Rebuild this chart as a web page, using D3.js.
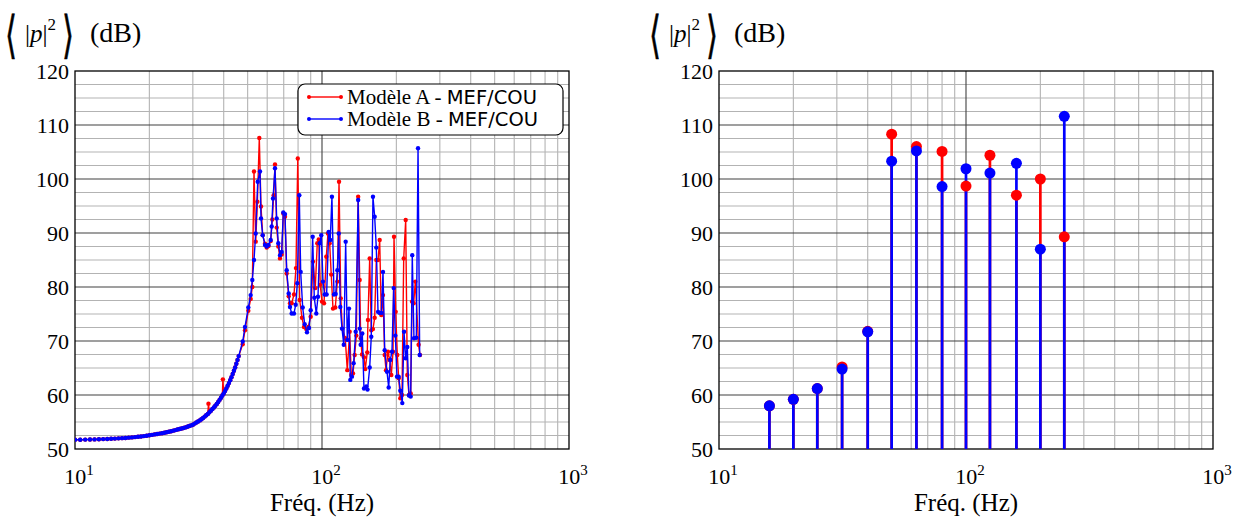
<!DOCTYPE html>
<html><head><meta charset="utf-8">
<script src="https://cdn.jsdelivr.net/npm/d3@7"></script>
<style>body{margin:0;background:#fff}svg{display:block}</style>
</head><body>
<svg id="chart" width="1243" height="519"></svg>
<script>
// ---------- data ----------
const lowFreq = [10,10.5,11,11.5,12,12.5,13,13.5,14,14.5,15,15.5,16,16.5,17,17.5,18,18.5,19,19.5,20,20.5,21,21.5,22,22.5,23,23.5,24,24.5,25,25.5,26,26.5,27,27.5,28,28.5,29,29.5,30,30.5,31,31.5,32,32.5,33,33.5,34,34.5,35,35.5,36,36.5,37,37.5,38,38.5,39,39.5,40,40.5,41,41.5,42,42.5,43,43.5,44,44.5,45,45.5,46];
const lowLevel = [51.70,51.72,51.74,51.76,51.78,51.80,51.83,51.86,51.89,51.93,51.97,52.01,52.05,52.10,52.15,52.20,52.26,52.32,52.39,52.46,52.55,52.62,52.70,52.77,52.85,52.92,53.00,53.10,53.20,53.30,53.40,53.50,53.60,53.70,53.80,53.90,54.00,54.12,54.25,54.37,54.50,54.70,54.90,55.10,55.30,55.50,55.75,56.00,56.25,56.50,56.80,57.10,57.40,57.70,58.00,58.35,58.70,59.10,59.50,59.90,60.30,60.75,61.20,61.70,62.20,62.75,63.30,63.90,64.50,65.10,65.80,66.50,67.20];
const bumpFreqA = [34.7, 39.7];
const bumpLevelA = [58.4, 62.9];
const freqA = [47.75,48.78,50.31,51.44,52.22,53.05,53.90,54.75,55.74,56.63,57.53,58.78,59.72,60.73,61.98,62.92,63.74,64.52,65.55,66.54,67.60,68.68,69.72,70.82,71.95,73.31,74.20,75.39,77.02,78.46,79.80,81.22,82.98,84.54,86.37,88.00,89.98,91.94,93.93,95.70,97.00,98.40,100.0,101.9,104.1,105.7,107.4,109.0,110.8,113.2,115.4,117.2,119.1,120.9,124.2,126.6,129.4,131.4,133.5,135.6,137.7,140.1,142.1,143.4,145.2,147.9,149.7,152.5,153.5,156.0,158.3,160.8,163.4,165.9,168.6,171.2,173.8,176.6,179.4,181.6,185.0,188.0,190.8,193.9,195.7,198.8,201.8,204.4,207.5,210.8,214.2,218.2,221.5,225.0,228.6,231.4,235.0,238.7,246.1,249.3];
const levelA = [69.4,72.0,75.6,77.8,80.0,101.4,88.4,95.8,107.6,94.9,89.6,88.0,87.3,87.6,88.5,92.5,97.0,102.7,91.0,87.5,85.3,86.0,93.6,93.0,82.5,78.3,77.0,77.0,78.6,83.5,103.8,77.6,74.3,72.6,72.2,72.6,74.5,84.7,79.8,88.1,88.8,80.4,77.3,77.0,85.6,89.9,88.1,82.3,76.0,76.2,81.0,99.5,77.9,72.3,70.5,64.6,71.7,63.7,64.0,67.4,71.0,96.7,81.3,70.5,67.5,67.0,64.8,67.9,73.9,85.3,72.0,72.2,74.3,85.0,85.0,88.7,74.8,78.5,67.4,64.6,68.0,66.5,63.7,68.0,89.3,75.4,67.4,63.1,59.4,60.0,85.3,92.4,63.7,60.0,60.3,77.3,77.0,81.0,69.3,67.4];
const freqB = [47.75,48.78,50.31,51.44,52.22,53.05,53.90,54.92,56.10,56.63,57.53,58.78,59.72,60.73,61.98,62.56,63.33,64.52,65.55,66.54,67.60,68.68,69.72,70.82,71.95,73.31,74.20,75.39,77.02,78.25,79.43,80.92,81.98,83.53,85.10,86.94,88.57,89.98,91.68,93.06,94.81,96.33,97.87,99.33,100.9,102.5,104.4,106.4,108.0,109.7,111.8,113.6,115.4,116.9,118.6,120.5,122.5,124.7,126.6,128.6,130.2,132.2,134.3,136.9,140.1,142.1,143.4,145.6,147.9,151.1,152.9,156.0,158.3,160.8,163.4,165.9,168.6,171.2,173.8,176.6,179.4,183.3,186.2,189.0,192.0,195.1,198.1,201.2,204.4,207.5,211.4,214.8,218.2,221.5,225.0,228.6,232.0,235.7,240.9,244.8,248.6];
const levelB = [69.9,72.6,76.2,78.5,81.3,85.0,89.9,99.5,101.4,92.7,89.6,87.8,87.5,87.8,88.7,91.2,96.4,102.0,92.7,88.1,85.9,86.5,93.8,93.5,83.1,78.8,76.3,75.1,75.1,76.7,80.7,97.0,82.8,76.2,73.1,71.6,72.4,75.7,89.3,78.0,75.1,78.2,88.1,89.6,81.0,78.6,78.6,90.2,88.7,96.7,78.6,78.7,83.1,89.9,76.3,72.3,69.3,88.4,70.2,76.0,62.8,63.4,65.9,71.7,96.1,72.3,69.3,71.4,61.2,61.6,61.0,65.1,70.8,96.7,93.0,87.3,75.4,75.2,75.2,82.8,68.3,64.3,61.4,66.5,68.0,79.8,71.0,63.4,63.4,60.8,58.5,71.7,66.8,68.9,59.9,59.7,85.9,70.5,70.6,105.7,67.4];
const bandFreq = [16,20,25,31.5,40,50,63,80,100,125,160,200,250];
const bandLevelA = [58.0,59.2,61.2,65.2,71.8,108.3,106.0,105.1,98.7,104.4,97.0,100.0,89.3];
const bandLevelB = [58.0,59.2,61.2,64.8,71.7,103.3,105.2,98.6,101.9,101.1,102.9,87.0,111.6];
const yTicks = [50,60,70,80,90,100,110,120];
const xTickExp = [1,2,3];
const seriesNames = ["Modèle A - ","Modèle B - "];
const seriesMethod = "MEF/COU";
const colors = ["#ff0000","#0000ff"];
const xTitle = "Fréq. (Hz)";

// ---------- build ----------
const svg = d3.select("#chart");
const serif = "'Liberation Serif','DejaVu Serif',serif";
const sans = "'DejaVu Sans','Liberation Sans',sans-serif";

function mkPanel(left){
  const W = 494, top = 71, bottom = 449;
  const x = d3.scaleLog().domain([10,1000]).range([left, left+W]);
  const y = d3.scaleLinear().domain([50,120]).range([bottom, top]);
  const g = svg.append("g");
  const minorX = [];
  [10,100].forEach(d => { for (let k=2;k<=9;k++) minorX.push(k*d); });
  const minorY = d3.range(50,120.01,2.5).filter(v => v%10 !== 0);
  g.selectAll(null).data(minorX).join("line")
    .attr("x1",d=>x(d)).attr("x2",d=>x(d)).attr("y1",top).attr("y2",bottom)
    .attr("stroke","#b3b3b3").attr("stroke-width",1.1);
  g.selectAll(null).data(minorY).join("line")
    .attr("x1",left).attr("x2",left+W).attr("y1",d=>y(d)).attr("y2",d=>y(d))
    .attr("stroke","#b3b3b3").attr("stroke-width",1.1);
  g.selectAll(null).data([100]).join("line")
    .attr("x1",d=>x(d)).attr("x2",d=>x(d)).attr("y1",top).attr("y2",bottom)
    .attr("stroke","#404040").attr("stroke-width",1.1);
  g.selectAll(null).data(yTicks.slice(1,-1)).join("line")
    .attr("x1",left).attr("x2",left+W).attr("y1",d=>y(d)).attr("y2",d=>y(d))
    .attr("stroke","#404040").attr("stroke-width",1.1);
  g.append("rect").attr("x",left).attr("y",top).attr("width",W).attr("height",bottom-top)
    .attr("fill","none").attr("stroke","#000").attr("stroke-width",1.3);
  g.selectAll(null).data(yTicks).join("text")
    .attr("x",left-6).attr("y",d=>y(d)+7.5).attr("text-anchor","end")
    .attr("font-family",serif).attr("font-size",22).text(d=>d);
  xTickExp.forEach(e => {
    const t = g.append("text").attr("x",x(Math.pow(10,e))+4).attr("y",484)
      .attr("text-anchor","middle").attr("font-family",serif).attr("font-size",22);
    t.append("tspan").text("10");
    t.append("tspan").attr("font-size",15).attr("dy",-9).text(e);
  });
  g.append("text").attr("x",left+W/2).attr("y",511).attr("text-anchor","middle")
    .attr("font-family",serif).attr("font-size",25).text(xTitle);
  // y title
  const tx = left-75;
  [[tx+5,"\u27E8"],[tx+62,"\u27E9"]].forEach(([bx,ch]) => {
    g.append("text").attr("transform",`translate(${bx},52) scale(1.4,2.3)`)
      .attr("font-family","'DejaVu Sans'").attr("font-size",22)
      .attr("stroke","#000").attr("stroke-width",0.25).text(ch);
  });
  const yt = g.append("text").attr("x",tx+25).attr("y",42).attr("font-family",serif).attr("font-size",25);
  yt.append("tspan").text("|");
  yt.append("tspan").attr("font-style","italic").text("p");
  yt.append("tspan").text("|");
  yt.append("tspan").attr("font-size",17).attr("dy",-12).text("2");
  g.append("text").attr("x",tx+90).attr("y",42).attr("font-family",serif).attr("font-size",28).text("(dB)");
  return {g,x,y,left,W,top,bottom};
}

// ---------- left panel ----------
const L = mkPanel(75);
svg.append("clipPath").attr("id","clipL").append("rect")
  .attr("x",L.left).attr("y",L.top).attr("width",L.W).attr("height",L.bottom-L.top);
const lowPts = d3.zip(lowFreq, lowLevel);
const serA = lowPts.concat(d3.zip(bumpFreqA,bumpLevelA), d3.zip(freqA,levelA)).sort((a,b)=>a[0]-b[0]);
const serB = lowPts.concat(d3.zip(freqB,levelB)).sort((a,b)=>a[0]-b[0]);
const line = d3.line().x(d=>L.x(d[0])).y(d=>L.y(d[1]));
[serA, serB].forEach((s,i) => {
  const gg = L.g.append("g").attr("clip-path","url(#clipL)");
  gg.append("path").datum(s).attr("d",line).attr("fill","none")
    .attr("stroke",colors[i]).attr("stroke-width",1.4).attr("stroke-linejoin","round");
  gg.selectAll(null).data(s).join("circle")
    .attr("cx",d=>L.x(d[0])).attr("cy",d=>L.y(d[1])).attr("r",2.2).attr("fill",colors[i]);
});
// legend
const lg = L.g.append("g");
lg.append("rect").attr("x",298).attr("y",84).attr("width",265).attr("height",51).attr("rx",7)
  .attr("fill","#fff").attr("stroke","#000").attr("stroke-width",1.2);
seriesNames.forEach((n,i) => {
  const yy = 97 + i*22;
  lg.append("line").attr("x1",309).attr("x2",341).attr("y1",yy).attr("y2",yy)
    .attr("stroke",colors[i]).attr("stroke-width",1.4);
  [309,341].forEach(xx => lg.append("circle").attr("cx",xx).attr("cy",yy).attr("r",2).attr("fill",colors[i]));
  const t = lg.append("text").attr("x",347).attr("y",yy+6.5);
  t.append("tspan").attr("font-family",serif).attr("font-size",21).text(n);
  t.append("tspan").attr("font-family",sans).attr("font-size",19.5).text(seriesMethod);
});

// ---------- right panel ----------
const R = mkPanel(719);
const bands = [bandLevelA, bandLevelB].map(lv => d3.zip(bandFreq, lv));
bands.forEach((b,i) => {
  R.g.selectAll(null).data(b).join("line")
    .attr("x1",d=>R.x(d[0])).attr("x2",d=>R.x(d[0]))
    .attr("y1",R.bottom).attr("y2",d=>R.y(d[1]))
    .attr("stroke",colors[i]).attr("stroke-width",2.7);
});
bands.forEach((b,i) => {
  R.g.selectAll(null).data(b).join("circle")
    .attr("cx",d=>R.x(d[0])).attr("cy",d=>R.y(d[1])).attr("r",5.5).attr("fill",colors[i]);
});
</script>
</body></html>
